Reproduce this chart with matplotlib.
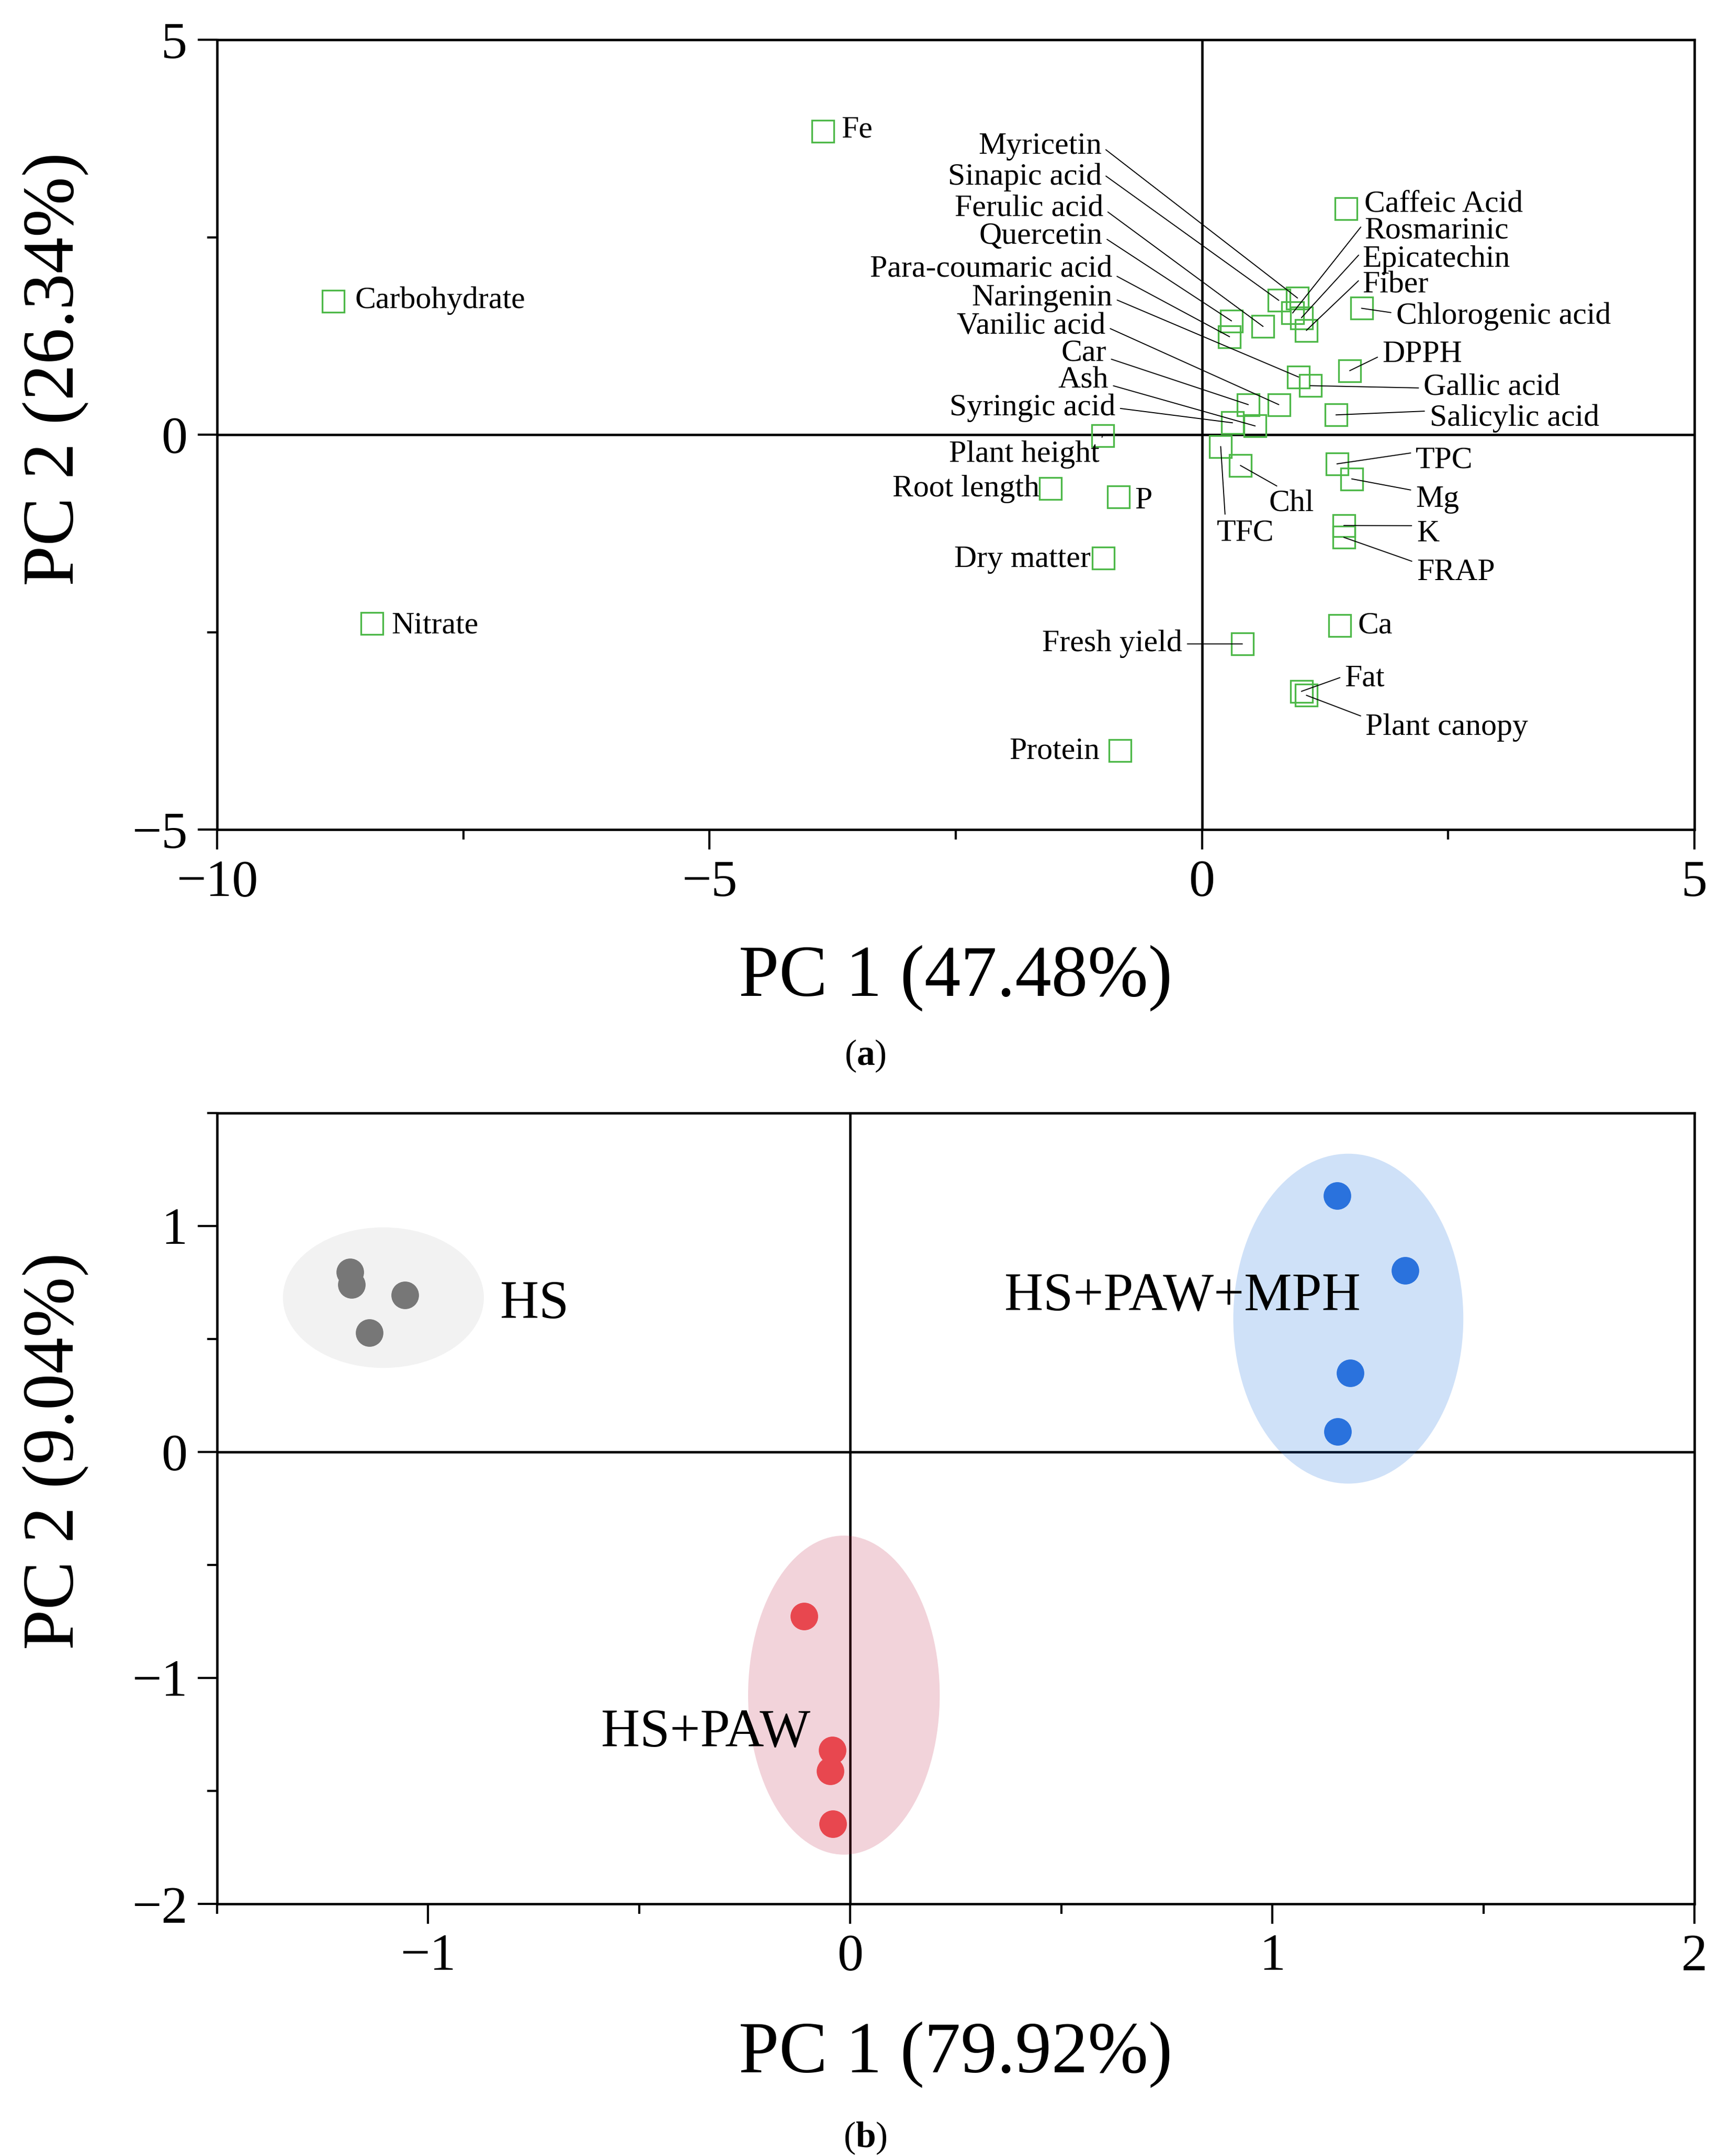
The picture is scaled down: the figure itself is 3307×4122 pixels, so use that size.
import numpy as np
import matplotlib.pyplot as plt
from matplotlib.patches import Ellipse
from matplotlib.ticker import MultipleLocator

plt.rcParams['font.family'] = ['Liberation Serif', 'DejaVu Serif']
plt.rcParams['mathtext.fontset'] = 'custom'
plt.rcParams['mathtext.rm'] = 'Liberation Serif'
plt.rcParams['mathtext.bf'] = 'Liberation Serif:bold'

# ---- (a) loading plot ----
var_names = ['Fe', 'Carbohydrate', 'Nitrate', 'Myricetin', 'Sinapic acid', 'Ferulic acid',
             'Quercetin', 'Para-coumaric acid', 'Naringenin', 'Vanilic acid', 'Car', 'Ash',
             'Syringic acid', 'Plant height', 'Root length', 'P', 'Dry matter', 'Protein',
             'Fresh yield', 'Caffeic Acid', 'Rosmarinic', 'Epicatechin', 'Fiber',
             'Chlorogenic acid', 'DPPH', 'Gallic acid', 'Salicylic acid', 'TPC', 'Mg', 'K',
             'FRAP', 'Ca', 'Fat', 'Plant canopy', 'Chl', 'TFC']
pc1 = [-3.85, -8.82, -8.43, 0.97, 0.78, 0.62,
       0.30, 0.28, 0.98, 0.78, 0.47, 0.54,
       0.31, -1.01, -1.54, -0.85, -1.00, -0.83,
       0.41, 1.46, 0.92, 1.01, 1.06,
       1.62, 1.50, 1.10, 1.36, 1.37, 1.52, 1.44,
       1.44, 1.40, 1.01, 1.06, 0.39, 0.19]
pc2 = [3.84, 1.69, -2.39, 1.73, 1.70, 1.37,
       1.44, 1.24, 0.73, 0.38, 0.38, 0.11,
       0.15, -0.01, -0.68, -0.79, -1.56, -4.00,
       -2.65, 2.86, 1.54, 1.48, 1.32,
       1.60, 0.81, 0.62, 0.25, -0.37, -0.56, -1.15,
       -1.30, -2.42, -3.25, -3.30, -0.39, -0.15]

# where each name sits, and where its leader line leaves the text (None = no line)
lab_x = [-3.66, -8.60, -8.23, -1.02, -1.02, -1.00,
         -1.01, -0.91, -0.91, -0.98, -0.97, -0.95,
         -0.88, -1.04, -1.65, -0.68, -1.13, -1.04,
         -0.20, 1.65, 1.65, 1.63, 1.63,
         1.97, 1.83, 2.25, 2.31, 2.17, 2.17, 2.18,
         2.18, 1.58, 1.45, 1.66, 0.68, 0.15]
lab_y = [3.86, 1.70, -2.42, 3.65, 3.26, 2.86,
         2.51, 2.09, 1.73, 1.37, 1.03, 0.69,
         0.34, -0.25, -0.69, -0.84, -1.58, -4.01,
         -2.65, 2.92, 2.58, 2.22, 1.89,
         1.50, 1.01, 0.59, 0.21, -0.33, -0.82, -1.26,
         -1.75, -2.42, -3.09, -3.71, -0.87, -1.25]
lab_ha = ['left', 'left', 'left', 'right', 'right', 'right',
          'right', 'right', 'right', 'right', 'right', 'right',
          'right', 'right', 'right', 'left', 'right', 'right',
          'right', 'left', 'left', 'left', 'left',
          'left', 'left', 'left', 'left', 'left', 'left', 'left',
          'left', 'left', 'left', 'left', 'left', 'left']
lab_rel = [None, None, None, (1, 0.5), (1, 0.65), (1, 0.5),
           (1, 0.5), (1, 0.35), (1, 0.5), (1, 0.5), (1, 0.35), (1, 0.35),
           (1, 0.5), (1, 0.8), None, None, None, None,
           (1, 0.5), None, (0, 0.8), (0, 0.8), (0, 0.8),
           (0, 0.6), (0, 0.5), (0, 0.5), (0, 0.75), (0, 0.8), (0, 0.8), (0, 0.8),
           (0, 0.85), None, (0, 0.6), (0, 0.85), (0.3, 1), (0.15, 1)]

# ---- (b) score plot ----
grp_names = ['HS', 'HS+PAW', 'HS+PAW+MPH']
hs_x = [-1.185, -1.181, -1.055, -1.139]
hs_y = [0.796, 0.741, 0.694, 0.528]
paw_x = [-0.109, -0.042, -0.047, -0.041]
paw_y = [-0.727, -1.319, -1.412, -1.646]
mph_x = [1.154, 1.315, 1.185, 1.155]
mph_y = [1.134, 0.803, 0.350, 0.090]
ell_cx = [-1.106, -0.015, 1.180]
ell_cy = [0.683, -1.076, 0.590]
ell_w = [0.476, 0.454, 0.545]
ell_h = [0.622, 1.412, 1.460]
grp_lab_x = [-0.83, -0.59, 0.365]
grp_lab_y = [0.65, -1.245, 0.685]

dot_cols = ['#777777', '#E8474F', '#2A72DD']
ell_cols = ['#BEBEBE', '#BE2346', '#0F69DC']

W, H = 3307, 4122
fig = plt.figure(figsize=(W / 100, H / 100), dpi=100)
axL, axR = 415, 3239
ax1 = fig.add_axes([axL / W, 1 - 1586 / H, (axR - axL) / W, 1510 / H])
ax2 = fig.add_axes([axL / W, 1 - 3640 / H, (axR - axL) / W, 1512 / H])


def style(ax):
    for s in ax.spines.values():
        s.set_linewidth(3.3)
    ax.tick_params(which='both', direction='out', top=False, right=False, width=3.0,
                   labelsize=72, pad=14)
    ax.tick_params(which='major', length=27)
    ax.tick_params(which='minor', length=14)
    ax.axhline(0, color='k', lw=3.3, zorder=1)
    ax.axvline(0, color='k', lw=3.3, zorder=1)


# (a)
ax1.set_xlim(-10, 5)
ax1.set_ylim(-5, 5)
ax1.xaxis.set_major_locator(MultipleLocator(5))
ax1.xaxis.set_minor_locator(MultipleLocator(2.5))
ax1.yaxis.set_major_locator(MultipleLocator(5))
ax1.yaxis.set_minor_locator(MultipleLocator(2.5))
style(ax1)
ax1.plot(pc1, pc2, 's', mfc='none', mec='#4DB848', ms=30, mew=2.4, zorder=3)
for i, name in enumerate(var_names):
    if lab_rel[i] is None:
        ax1.text(lab_x[i], lab_y[i], name, ha=lab_ha[i], va='center', fontsize=43, zorder=4)
    else:
        ax1.annotate(name, xy=(pc1[i], pc2[i]), xytext=(lab_x[i], lab_y[i]),
                     ha=lab_ha[i], va='center', fontsize=43, zorder=4,
                     arrowprops=dict(arrowstyle='-', color='k', lw=1.4,
                                     shrinkA=5, shrinkB=0, relpos=lab_rel[i]))

# (b)
ax2.set_xlim(-1.5, 2)
ax2.set_ylim(-2, 1.5)
ax2.xaxis.set_major_locator(MultipleLocator(1))
ax2.xaxis.set_minor_locator(MultipleLocator(0.5))
ax2.yaxis.set_major_locator(MultipleLocator(1))
ax2.yaxis.set_minor_locator(MultipleLocator(0.5))
style(ax2)
for k in range(3):
    ax2.add_patch(Ellipse((ell_cx[k], ell_cy[k]), ell_w[k], ell_h[k],
                          facecolor=ell_cols[k], edgecolor='none', alpha=0.2, zorder=2))
for k, (gx, gy) in enumerate([(hs_x, hs_y), (paw_x, paw_y), (mph_x, mph_y)]):
    ax2.plot(gx, gy, 'o', color=dot_cols[k], ms=38, mew=0, zorder=3)
    ax2.text(grp_lab_x[k], grp_lab_y[k], grp_names[k], ha='left', va='center',
             fontsize=74, zorder=4)

# axis titles and panel tags
fig.text(((axL + axR) / 2) / W, 1 - 1871 / H, 'PC 1 (47.48%)', ha='center', va='center',
         fontsize=100)
fig.text(107 / W, 1 - 706 / H, 'PC 2 (26.34%)', ha='center', va='center',
         fontsize=100, rotation=90)
fig.text(((axL + axR) / 2) / W, 1 - 3929 / H, 'PC 1 (79.92%)', ha='center', va='center',
         fontsize=100)
fig.text(107 / W, 1 - 2774 / H, 'PC 2 (9.04%)', ha='center', va='center',
         fontsize=100, rotation=90)
fig.text(1654 / W, 1 - 2019 / H, r'($\mathbf{a}$)', ha='center', va='center', fontsize=50)
fig.text(1654 / W, 1 - 4088 / H, r'($\mathbf{b}$)', ha='center', va='center', fontsize=50)

fig.savefig('out.png', dpi=100, facecolor='w')
